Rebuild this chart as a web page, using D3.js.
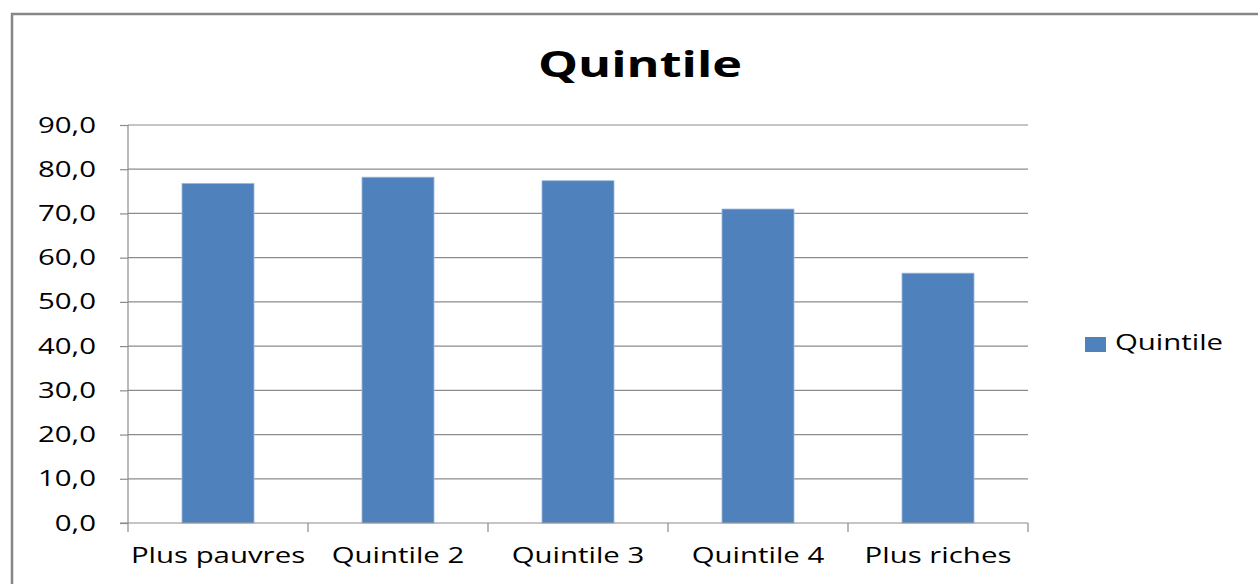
<!DOCTYPE html>
<html><head><meta charset="utf-8">
<script src="https://cdn.jsdelivr.net/npm/d3@7"></script>
<style>body{margin:0;background:#fff}svg{display:block}</style>
</head><body>
<svg id="c" width="1258" height="584"></svg>
<script>
const categories = ["Plus pauvres","Quintile 2","Quintile 3","Quintile 4","Plus riches"];
const values = [76.8, 78.2, 77.4, 71.0, 56.5];
const yTicks = [0,10,20,30,40,50,60,70,80,90];
const seriesName = "Quintile";
const title = "Quintile";

const svg = d3.select("#c");
const font = "'Open Sans', 'DejaVu Sans', sans-serif";
const SX = 1.4;
const m = {l:128, r:1028, t:125, b:523};
svg.append("rect").attr("x",12).attr("y",14).attr("width",1260).attr("height",600)
  .attr("fill","#fff").attr("stroke","#878787").attr("stroke-width",2.5);

const x = d3.scaleBand().domain(categories).range([m.l,m.r]).paddingInner(0.6).paddingOuter(0.3);
const y = d3.scaleLinear().domain([0,90]).range([m.b,m.t]);

function stretchedText(parent, tx, ty, str, size, anchor, weight) {
  const g = parent.append("g").attr("transform", `translate(${tx},${ty}) scale(${SX},1)`);
  g.append("text").attr("text-anchor", anchor).attr("font-family", font)
    .attr("font-size", size).attr("font-weight", weight || "normal").attr("fill", "#000").text(str);
  return g;
}

const grid = svg.append("g");
grid.selectAll("line").data(yTicks.filter(d=>d>0)).join("line")
  .attr("x1",m.l).attr("x2",m.r).attr("y1",d=>y(d)).attr("y2",d=>y(d))
  .attr("stroke","#8c8c8c").attr("stroke-width",1.2);

svg.append("g").selectAll("rect").data(values).join("rect")
  .attr("x",(d,i)=>x(categories[i])).attr("width",x.bandwidth())
  .attr("y",d=>y(d)).attr("height",d=>y(0)-y(d))
  .attr("fill","#4F81BD").attr("stroke","#9DB9DE").attr("stroke-width",0.8);

const yAxis = svg.append("g").attr("transform",`translate(${m.l},0)`)
  .call(d3.axisLeft(y).tickValues(yTicks).tickSize(8).tickFormat(""));
yAxis.select(".domain").attr("stroke","#8c8c8c").attr("stroke-width",1.2).attr("d",`M0,${m.t}V${m.b}`);
yAxis.selectAll(".tick line").attr("stroke","#8c8c8c").attr("stroke-width",1.2);
const fmt = d=>d3.format(".1f")(d).replace(".",",");
yTicks.forEach(t => stretchedText(svg, 96, y(t)+7.5, fmt(t), 21, "end"));

const xb = d3.scaleLinear().domain([0,5]).range([m.l,m.r]);
const xAxis = svg.append("g").attr("transform",`translate(0,${m.b})`);
xAxis.append("line").attr("x1",m.l-8).attr("x2",m.r).attr("stroke","#8c8c8c").attr("stroke-width",1.2);
xAxis.selectAll(".tk").data(d3.range(6)).join("line").attr("class","tk")
  .attr("x1",d=>xb(d)).attr("x2",d=>xb(d)).attr("y1",0).attr("y2",9)
  .attr("stroke","#8c8c8c").attr("stroke-width",1.2);
categories.forEach(c => stretchedText(svg, x(c)+x.bandwidth()/2, 563, c, 21, "middle"));

stretchedText(svg, 640, 77, title, 36, "middle", "bold");

svg.append("rect").attr("x",1085).attr("y",337).attr("width",21).attr("height",15).attr("fill","#4F81BD");
stretchedText(svg, 1115, 350, seriesName, 21, "start");
</script>
</body></html>
